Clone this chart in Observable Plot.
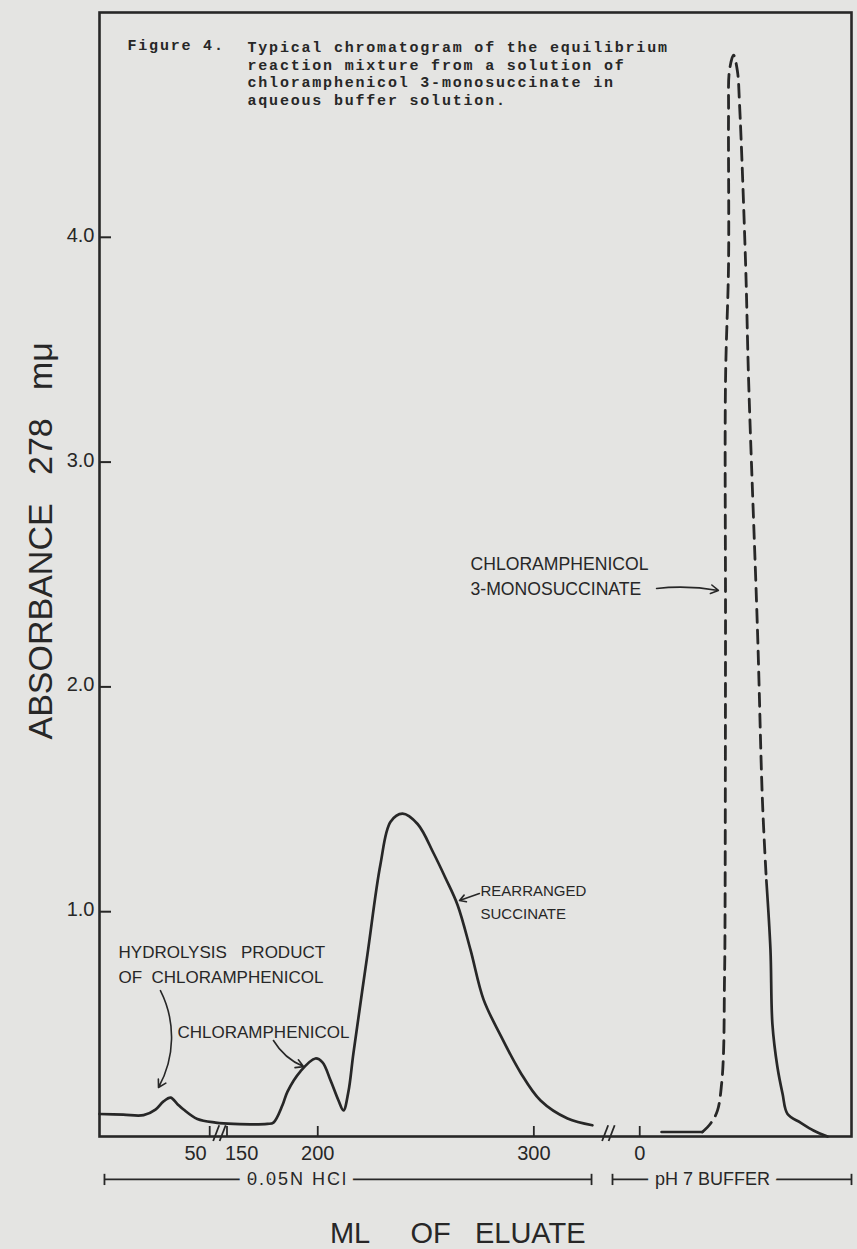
<!DOCTYPE html>
<html><head><meta charset="utf-8">
<script src="https://cdn.jsdelivr.net/npm/d3@7"></script>
<script src="https://cdn.jsdelivr.net/npm/@observablehq/plot@0.6"></script>
<style>
html,body{margin:0;padding:0;background:#e4e4e2;}
#chart{width:857px;height:1249px;}
</style></head><body><div id="chart"></div>
<script>
// ---- Data (x = position along the broken eluate axis, y = absorbance at 278 mμ) ----
const hclPos = [99.0,110,119.4,124.9,128.5,131.9,135,137.9,144.3,152.7,161.0,176.7,179.5,183.7,186.0,192.0,198.9,202.2,205.9,209.6,211.9,214.2,216.5,223.0,229.0,233.7,239.2,246.2,253.6,259.1,264.7,270.7,276.7,284.6,293.8,303.1,315.6,327.1];
const hclAbs = [0.10,0.097,0.095,0.12,0.155,0.173,0.145,0.12,0.078,0.062,0.056,0.056,0.062,0.14,0.20,0.29,0.347,0.33,0.25,0.16,0.116,0.20,0.37,0.81,1.21,1.40,1.436,1.39,1.26,1.15,1.03,0.83,0.61,0.45,0.285,0.16,0.08,0.05];

const bufBasePos = [359.1,378.0];
const bufBaseAbs = [0.02,0.02];
const succPos = [378.0,381.8,385.0,386.9,387.8,388.2,388.4,388.7,388.7,390.1,390.1,390.5,392.4,394.2,395.2,398.0,399.4,403.5,405.8,407.6];
const succAbs = [0.02,0.058,0.116,0.235,0.38,0.68,0.83,2.25,3.36,3.88,4.55,4.74,4.81,4.74,4.59,3.88,3.36,2.25,1.49,1.14];
const tailPos = [407.6,409.5,410.4,412.7,415.1,417.4,423.4,429.4,435.9];
const tailAbs = [1.14,0.83,0.50,0.31,0.19,0.10,0.062,0.027,0.0];

const yTicks = [1, 2, 3, 4];
const xTickPos = [150, 158, 200, 300, 349];
const xTickLabels = ["50", "150", "200", "300", "0"];
const breakPos = [154.5, 334.5];

const phaseLabels = ["0.05N HCl", "pH 7 BUFFER"];
const phaseStart = [101.3, 336.4];
const phaseEnd = [326.7, 447];
const phaseLabelAt = [190.6, 382.7];

const annoText = ["HYDROLYSIS\u00a0\u00a0 PRODUCT\nOF\u00a0\u00a0CHLORAMPHENICOL", "CHLORAMPHENICOL", "REARRANGED\nSUCCINATE", "CHLORAMPHENICOL\n3-MONOSUCCINATE"];
const annoX = [107.8, 135.1, 275.3, 270.7];
const annoY = [0.774, 0.476, 1.05, 2.50];
const annoSize = [17, 17, 15, 17.6];
const annoLead = [1.5, 1.5, 1.5, 1.42];

const arrowX1 = [127.2, 179.5, 274.8, 356.8];
const arrowY1 = [0.649, 0.427, 1.081, 2.438];
const arrowX2 = [126.3, 193.4, 265.6, 385.4];
const arrowY2 = [0.218, 0.311, 1.050, 2.429];
const arrowBend = [28, -18, 0, 8];

const titleLead = "Figure 4.";
const titleBody = "Typical chromatogram of the equilibrium\nreaction mixture from a solution of\nchloramphenicol 3-monosuccinate in\naqueous buffer solution.";
const yLabel = "ABSORBANCE\u00a0\u00a0\u00a0278\u00a0\u00a0\u00a0mμ";
const xLabel = "ML\u00a0\u00a0\u00a0\u00a0\u00a0OF\u00a0\u00a0\u00a0ELUATE";

// ---- Build ----
const ink = "#272727";
const paper = "#e4e4e2";
const W = 857, H = 1249, mL = 99, mR = 6, mT = 12, mB = 113;
const innerW = W - mL - mR, innerH = H - mT - mB;
const zip = (xs, ys) => xs.map((x, i) => ({x, y: ys[i]}));
const hcl = zip(hclPos, hclAbs);
const bufBase = zip(bufBasePos, bufBaseAbs);
const succ = zip(succPos, succAbs);
const tail = zip(tailPos, tailAbs);
const phases = phaseLabels.map((l, i) => ({label: l, start: phaseStart[i], end: phaseEnd[i], at: phaseLabelAt[i]}));
const ticksX = xTickPos.map((p, i) => ({p, label: xTickLabels[i]}));
// two slanted strokes for each axis break
const slashes = breakPos.flatMap(p => [-1.5, 1.5].map(o => ({x1: p + o - 1.4, x2: p + o + 1.4, y1: -0.02, y2: 0.05})));
const bracketY = -0.191;
const sans = "'Liberation Sans', Arial, sans-serif";
const mono = "'Liberation Mono', 'Courier New', monospace";

const marks = [
  Plot.frame({stroke: ink, strokeWidth: 2.6}),
  Plot.tickY(yTicks, {y: d => d, stroke: ink, strokeWidth: 2, insetRight: innerW - 12}),
  Plot.text(yTicks, {y: d => d, text: d => d.toFixed(1), frameAnchor: "left", textAnchor: "end", dx: -5, dy: -2, fontSize: 20, fill: ink}),
  Plot.tickX(xTickPos, {x: d => d, stroke: ink, strokeWidth: 1.8, insetTop: innerH - 10}),
  Plot.text(ticksX.slice(0, 1), {x: "p", y: 0, text: "label", textAnchor: "end", dx: -3, dy: 17, fontSize: 20, fill: ink}),
  Plot.text(ticksX.slice(1, 2), {x: "p", y: 0, text: "label", textAnchor: "start", dx: -2, dy: 17, fontSize: 20, fill: ink}),
  Plot.text(ticksX.slice(2), {x: "p", y: 0, text: "label", textAnchor: "middle", dy: 17, fontSize: 20, fill: ink}),
  Plot.link(slashes, {x1: "x1", y1: "y1", x2: "x2", y2: "y2", stroke: ink, strokeWidth: 1.8}),
  Plot.line(hcl, {x: "x", y: "y", curve: "catmull-rom", stroke: ink, strokeWidth: 2.7}),
  Plot.line(bufBase, {x: "x", y: "y", stroke: ink, strokeWidth: 2.7}),
  Plot.line(succ, {x: "x", y: "y", curve: "catmull-rom", stroke: ink, strokeWidth: 2.8, strokeDasharray: "13,8"}),
  Plot.line(tail, {x: "x", y: "y", curve: "catmull-rom", stroke: ink, strokeWidth: 2.7}),
  // phase brackets below the axis
  Plot.ruleY(phases, {x1: "start", x2: "end", y: () => bracketY, stroke: ink, strokeWidth: 1.8}),
  Plot.link(phases, {x1: "start", x2: "start", y1: () => bracketY - 0.025, y2: () => bracketY + 0.025, stroke: ink, strokeWidth: 1.8}),
  Plot.link(phases, {x1: "end", x2: "end", y1: () => bracketY - 0.025, y2: () => bracketY + 0.025, stroke: ink, strokeWidth: 1.8}),
  Plot.text(phases, {x: "at", y: () => bracketY, text: "label", fontSize: 18, fill: ink, stroke: paper, strokeWidth: 16, paintOrder: "stroke"}),
  // axis titles
  Plot.text([yLabel], {frameAnchor: "left", textAnchor: "middle", y: () => 2.65, text: d => d, rotate: -90, dx: -58, fontSize: 34, fill: ink}),
  Plot.text([xLabel], {x: () => 264.8, y: () => 0, text: d => d, dy: 97, fontSize: 29, fill: ink}),
  // figure caption inside the frame
  Plot.text([titleLead], {frameAnchor: "top-left", text: d => d, dx: 28, dy: 27, lineAnchor: "top", fontFamily: mono, fontWeight: "bold", fontSize: 15, fill: ink}),
  Plot.text([titleBody], {frameAnchor: "top-left", text: d => d, dx: 148, dy: 27, lineAnchor: "top", lineHeight: 1.17, fontFamily: mono, fontWeight: "bold", fontSize: 15, fill: ink})
];
annoText.forEach((t, i) => {
  marks.push(Plot.text([t], {x: () => annoX[i], y: () => annoY[i], text: d => d, textAnchor: "start", lineHeight: annoLead[i], fontSize: annoSize[i], fill: ink}));
});
arrowX1.forEach((x1, i) => {
  marks.push(Plot.arrow([i], {x1: () => x1, y1: () => arrowY1[i], x2: () => arrowX2[i], y2: () => arrowY2[i], bend: arrowBend[i], stroke: ink, strokeWidth: 1.6, headLength: 8}));
});

const chart = Plot.plot({
  width: W, height: H,
  marginLeft: mL, marginRight: mR, marginTop: mT, marginBottom: mB,
  x: {domain: [99, 447], axis: null},
  y: {domain: [0, 5], axis: null},
  style: {background: paper, fontFamily: sans, color: ink, overflow: "visible"},
  marks
});
const sel = d3.select(chart).selectAll("text");
sel.filter(function() { return this.textContent === "0.05N HCl"; }).style("letter-spacing", "2px");
sel.filter(function() { const t = this.textContent; return t === titleLead || t.startsWith("Typical"); }).style("letter-spacing", "1.8px");
document.getElementById("chart").appendChild(chart);
</script>
</body></html>
